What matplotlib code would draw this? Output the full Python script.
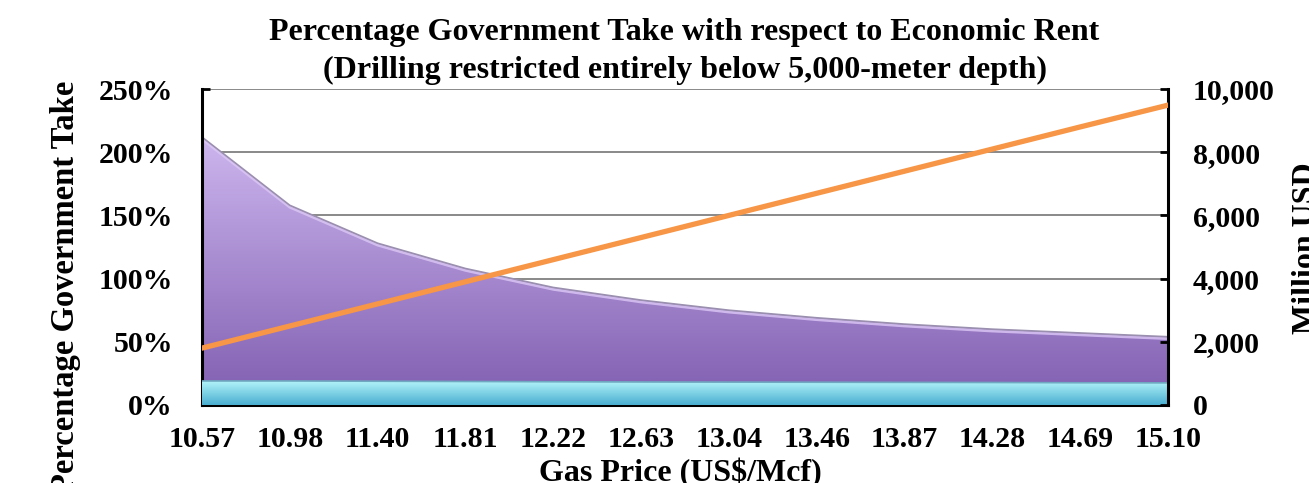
import numpy as np
import matplotlib
matplotlib.use("Agg")
from matplotlib import pyplot as plt
from matplotlib.colors import LinearSegmentedColormap
from matplotlib.ticker import FuncFormatter

# data
gas_price = ['10.57', '10.98', '11.40', '11.81', '12.22', '12.63',
             '13.04', '13.46', '13.87', '14.28', '14.69', '15.10']
gov_take_pct = [212, 158, 128, 108, 93, 83, 75, 69, 64, 60, 57, 54]
base_take_pct = [19, 19, 18.8, 18.6, 18.4, 18.2, 18.1, 18, 17.9, 17.8, 17.6, 17.5]
economic_rent = [1800, 2500, 3200, 3900, 4600, 5300, 6000, 6700, 7400, 8100, 8800, 9490]

plt.rcParams['font.family'] = ['Liberation Serif', 'DejaVu Serif']
plt.rcParams['font.weight'] = 'bold'

fig = plt.figure(figsize=(13.09, 4.83), dpi=100)
ax = fig.add_axes([0.1543, 0.1615, 0.738, 0.6542])
x = np.arange(len(gas_price))


def gradient_fill(ax, xs, ys, top_color, bottom_color, ymax, zorder, edge):
    poly = ax.fill_between(xs, 0, ys, facecolor='none', edgecolor='none', zorder=zorder)
    cmap = LinearSegmentedColormap.from_list('g', [bottom_color, top_color])
    grad = np.linspace(0, 1, 256).reshape(-1, 1)
    im = ax.imshow(grad, cmap=cmap, aspect='auto', origin='lower',
                   extent=[xs[0], xs[-1], 0, ymax], zorder=zorder)
    path = poly.get_paths()[0]
    im.set_clip_path(path, transform=ax.transData)
    ax.plot(xs, ys, color=edge, lw=1.2, zorder=zorder + 0.1)


gradient_fill(ax, x, gov_take_pct, '#cdb6ee', '#7f5db0', max(gov_take_pct), 2, '#9a8fae')
ax.plot(x, np.array(gov_take_pct) - 1.5, color='#dcc8f6', lw=2, zorder=2.05, alpha=0.8)
gradient_fill(ax, x, base_take_pct, '#b6f6fb', '#4aaed0', max(base_take_pct), 3, '#6fa8c0')

ax.set_xlim(0, len(gas_price) - 1)
ax.set_ylim(0, 250)
ax.set_yticks(np.arange(0, 251, 50))
ax.yaxis.set_major_formatter(FuncFormatter(lambda v, p: f'{v:.0f}%'))
ax.set_xticks(x)
ax.set_xticklabels(gas_price)
ax.grid(axis='y', color='#808080', lw=1.3, zorder=0)
ax.set_axisbelow(True)
ax.tick_params(axis='both', direction='in', length=6, width=2, labelsize=21.5)
ax.tick_params(axis='y', pad=21)
ax.tick_params(axis='x', pad=15)
for s in ['left', 'bottom']:
    ax.spines[s].set_linewidth(2.2)
ax.spines['top'].set_visible(False)
ax.spines['right'].set_visible(False)

ax2 = ax.twinx()
ax2.plot(x, economic_rent, color='#f79646', lw=3.8, zorder=5)
ax2.set_ylim(0, 10000)
ax2.set_yticks(np.arange(0, 10001, 2000))
ax2.yaxis.set_major_formatter(FuncFormatter(lambda v, p: f'{v:,.0f}'))
ax2.tick_params(axis='y', direction='in', length=6, width=2, labelsize=21.5, pad=18)
ax2.spines['right'].set_linewidth(2.2)
for s in ['left', 'top', 'bottom']:
    ax2.spines[s].set_visible(False)

fig.text(0.523, 0.932, 'Percentage Government Take with respect to Economic Rent',
         ha='center', va='center', fontsize=23, fontweight='bold')
fig.text(0.523, 0.855, '(Drilling restricted entirely below 5,000-meter depth)',
         ha='center', va='center', fontsize=23, fontweight='bold')
fig.text(0.05, 0.406, 'Percentage Government Take', rotation=90,
         ha='center', va='center', fontsize=23.5, fontweight='bold')
fig.text(0.998, 0.486, 'Million USD', rotation=90,
         ha='center', va='center', fontsize=23, fontweight='bold')
fig.text(0.52, 0.02, 'Gas Price (US$/Mcf)',
         ha='center', va='center', fontsize=23, fontweight='bold')

fig.savefig('out.png', dpi=100)
